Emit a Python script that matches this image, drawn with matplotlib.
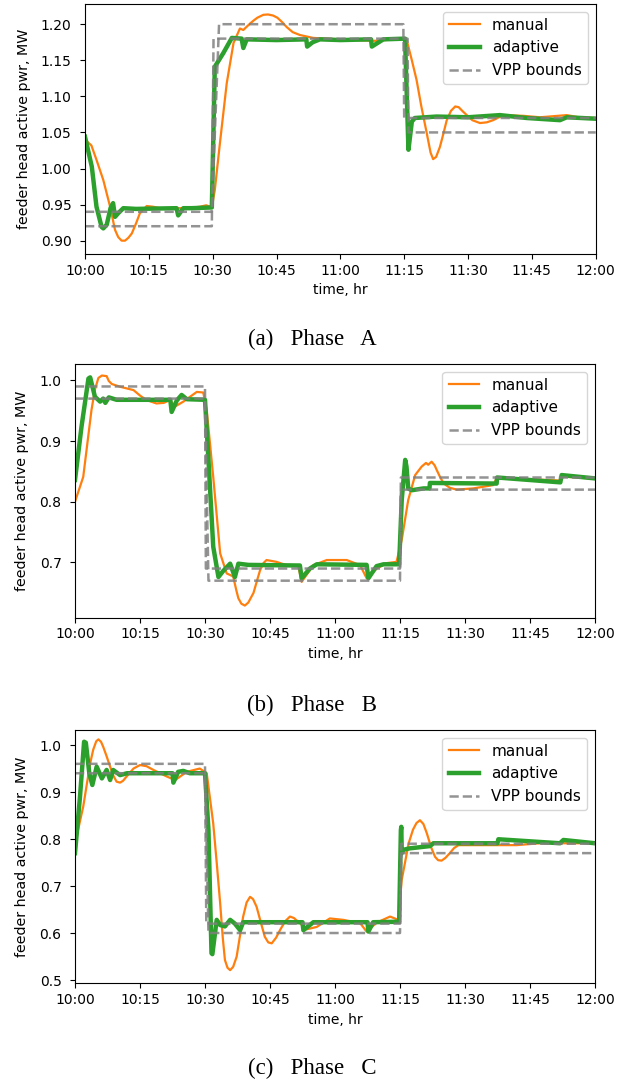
import numpy as np
import matplotlib
matplotlib.use("Agg")
import matplotlib.pyplot as plt

# time axis: minutes after 10:00
tick_min = [0, 15, 30, 45, 60, 75, 90, 105, 120]
tick_lbl = ['10:00', '10:15', '10:30', '10:45', '11:00', '11:15', '11:30', '11:45', '12:00']

# ---- Phase A ----
manual_a = [(0, 1.04), (1.5, 1.032), (2.7, 1.012), (4.3, 0.984), (5.9, 0.947), (7.05, 0.915),
            (7.8, 0.905), (8.6, 0.900), (9.4, 0.900), (10.2, 0.904), (11.0, 0.910), (12.0, 0.924),
            (12.9, 0.938), (14.5, 0.948), (16, 0.947), (17.6, 0.945), (20, 0.945), (24, 0.945),
            (27, 0.947), (28.5, 0.949), (29.8, 0.946), (30.5, 0.97), (31.7, 1.035), (33.3, 1.118),
            (34.9, 1.174), (36.4, 1.194), (37.2, 1.192), (38.8, 1.201), (39.6, 1.205), (40.5, 1.209),
            (41.9, 1.213), (43.0, 1.2135), (44.2, 1.212), (45.2, 1.209), (46.3, 1.203), (47.4, 1.196),
            (48.8, 1.189), (50.5, 1.185), (53.6, 1.181), (60, 1.179), (67.4, 1.177), (69, 1.177),
            (72, 1.179), (74.8, 1.180), (75.6, 1.178), (76.8, 1.150), (77.9, 1.123), (79.0, 1.087),
            (80.3, 1.049), (81.2, 1.022), (81.8, 1.013), (82.5, 1.016), (83.4, 1.030), (84.2, 1.048),
            (85.0, 1.067), (86.0, 1.080), (87.0, 1.086), (87.8, 1.085), (88.8, 1.079), (89.7, 1.074),
            (91.0, 1.067), (92.8, 1.063), (94.4, 1.064), (95.9, 1.067), (98.3, 1.074), (103, 1.073),
            (106.9, 1.071), (113.2, 1.074), (116, 1.071), (120, 1.070)]
adaptive_a = [(0, 1.044), (1.6, 1.0025), (2.7, 0.947), (3.9, 0.919), (4.3, 0.917), (5.1, 0.922),
              (6.0, 0.945), (6.6, 0.952), (7.05, 0.933), (7.8, 0.938), (9.0, 0.945), (12, 0.944),
              (21.5, 0.945), (21.9, 0.935), (23.1, 0.945), (25, 0.945), (29.8, 0.946), (30.5, 1.141),
              (32.5, 1.160), (34.5, 1.181), (36.8, 1.180), (37.2, 1.167), (38, 1.179), (45, 1.178),
              (52.0, 1.179), (52.2, 1.169), (53.5, 1.175), (55.2, 1.179), (60, 1.178), (67.2, 1.179),
              (67.4, 1.169), (70.1, 1.179), (75.2, 1.180), (76.0, 1.026), (76.8, 1.065), (77.5, 1.070),
              (82.6, 1.072), (90, 1.071), (97.5, 1.074), (103.8, 1.070), (111.6, 1.067), (113.2, 1.071),
              (120, 1.069)]
lo_a = [(0, 0.92), (29.8, 0.92), (30.2, 1.18), (75.8, 1.18), (76.0, 1.05), (120, 1.05)]
hi_a = [(0, 0.94), (29.8, 0.94), (31.5, 1.20), (74.8, 1.20), (75.0, 1.07), (120, 1.07)]

# ---- Phase B ----
manual_b = [(0, 0.80), (1.9, 0.841), (3.8, 0.951), (4.6, 0.985), (5.4, 1.004), (6.2, 1.008),
            (7.3, 1.007), (7.8, 0.999), (8.5, 0.994), (10.4, 0.9895), (13.5, 0.984), (15, 0.975),
            (16.5, 0.9675), (18.8, 0.962), (20.5, 0.963), (21.9, 0.9675), (23.1, 0.957), (25, 0.965),
            (28.1, 0.981), (29.6, 0.98), (30.4, 0.951), (31.9, 0.841), (33.5, 0.715), (35.0, 0.682),
            (36.5, 0.677), (37.2, 0.655), (37.7, 0.641), (38.4, 0.632), (39.2, 0.629), (40.0, 0.634),
            (41.2, 0.650), (42.0, 0.670), (42.7, 0.687), (43.5, 0.699), (44.2, 0.704), (46.5, 0.701),
            (48.8, 0.6955), (51.5, 0.695), (52.3, 0.668), (55, 0.6955), (58.1, 0.704), (62.7, 0.704),
            (65.8, 0.6955), (67.3, 0.674), (69.6, 0.69), (72, 0.699), (74.2, 0.701), (75.4, 0.737),
            (76.9, 0.803), (78.5, 0.844), (80.0, 0.858), (81.0, 0.864), (81.5, 0.861), (82.3, 0.866),
            (83.0, 0.860), (83.5, 0.852), (84.3, 0.840), (85.1, 0.830), (86.5, 0.823), (88.1, 0.820),
            (91.9, 0.822), (96.5, 0.8275), (97.3, 0.8385), (105, 0.837), (112.0, 0.835),
            (112.7, 0.8415), (120, 0.838)]
adaptive_b = [(0, 0.836), (1.5, 0.9236), (3.1, 1.003), (3.5, 1.005), (4.6, 0.973), (5.8, 0.965),
              (6.5, 0.97), (7.0, 0.963), (7.8, 0.972), (9.6, 0.968), (22.0, 0.968), (22.3, 0.948),
              (23.5, 0.967), (24.6, 0.976), (25.8, 0.969), (30.0, 0.968), (30.8, 0.869), (31.9, 0.726),
              (33.1, 0.676), (34.2, 0.686), (35.8, 0.698), (36.9, 0.676), (37.7, 0.698), (40, 0.696),
              (51.9, 0.695), (52.3, 0.674), (54.2, 0.690), (55.8, 0.697), (67.3, 0.696), (67.7, 0.674),
              (69.6, 0.694), (71.2, 0.697), (74.8, 0.697), (75.4, 0.803), (76.2, 0.869), (76.5, 0.858),
              (76.9, 0.822), (77.7, 0.819), (80.4, 0.822), (81.8, 0.822), (81.9, 0.831), (97.3, 0.830),
              (97.4, 0.840), (112.0, 0.832), (112.3, 0.844), (120, 0.8385)]
lo_b = [(0, 0.97), (30.0, 0.97), (30.8, 0.67), (75.0, 0.67), (75.2, 0.82), (120, 0.82)]
hi_b = [(0, 0.99), (30.0, 0.99), (30.2, 0.69), (75.0, 0.69), (75.2, 0.84), (120, 0.84)]

# ---- Phase C ----
manual_c = [(0, 0.79), (1.9, 0.869), (3.5, 0.961), (4.2, 0.99), (4.9, 1.008), (5.4, 1.012),
            (6.0, 1.007), (6.5, 0.9965), (7.3, 0.976), (8.1, 0.954), (8.9, 0.934), (9.6, 0.922),
            (10.4, 0.92), (11.1, 0.924), (11.9, 0.933), (13.5, 0.950), (15, 0.9574), (16.5, 0.955),
            (18.1, 0.947), (21.2, 0.933), (23.1, 0.9255), (25.8, 0.943), (28.8, 0.950), (30.4, 0.94),
            (31.9, 0.833), (32.7, 0.75), (33.5, 0.663), (34.1, 0.59), (34.6, 0.5425), (35.2, 0.526),
            (35.8, 0.521), (36.5, 0.528), (37.3, 0.5496), (38.0, 0.59), (38.8, 0.6347), (39.6, 0.665),
            (40.4, 0.677), (41.1, 0.672), (41.9, 0.656), (42.9, 0.622), (43.8, 0.592), (44.6, 0.580),
            (45.4, 0.578), (46.4, 0.590), (47.3, 0.606), (48.5, 0.625), (49.6, 0.635), (50.5, 0.632),
            (51.5, 0.624), (53.5, 0.608), (55.8, 0.613), (58.8, 0.631), (61.9, 0.628), (65.8, 0.621),
            (67.3, 0.603), (69.6, 0.622), (72.7, 0.635), (74.6, 0.628), (75.4, 0.713), (77.0, 0.791),
            (78.0, 0.820), (78.8, 0.834), (79.6, 0.840), (80.4, 0.832), (81.2, 0.812), (82.2, 0.782),
            (83.1, 0.762), (83.8, 0.755), (84.6, 0.754), (85.5, 0.760), (86.5, 0.770), (87.5, 0.781),
            (88.5, 0.787), (101.9, 0.787), (107.3, 0.791), (120, 0.791)]
adaptive_c = [(0, 0.770), (1.15, 0.89), (2.1, 1.007), (2.5, 1.005), (3.3, 0.94), (4.0, 0.915),
              (5.0, 0.954), (6.2, 0.929), (7.3, 0.947), (8.1, 0.9255), (8.8, 0.947), (10.4, 0.936),
              (12, 0.94), (22.5, 0.94), (22.7, 0.92), (23.8, 0.943), (25.0, 0.945), (26.5, 0.94),
              (30.0, 0.94), (30.8, 0.819), (31.5, 0.557), (31.7, 0.555), (32.7, 0.628), (33.5, 0.617),
              (34.6, 0.614), (35.8, 0.628), (36.9, 0.62), (38.1, 0.606), (38.8, 0.623), (52.5, 0.623),
              (52.7, 0.606), (55, 0.623), (67.5, 0.623), (67.7, 0.603), (68.8, 0.623), (74.8, 0.624),
              (75.2, 0.819), (75.3, 0.826), (75.4, 0.770), (75.8, 0.777), (77.1, 0.780), (81.9, 0.785),
              (82.7, 0.791), (97.5, 0.791), (97.7, 0.7995), (111.9, 0.791), (112.7, 0.798), (120, 0.791)]
lo_c = [(0, 0.94), (30.0, 0.94), (30.8, 0.60), (75.0, 0.60), (75.3, 0.77), (120, 0.77)]
hi_c = [(0, 0.96), (30.0, 0.96), (30.3, 0.62), (75.0, 0.62), (75.3, 0.79), (120, 0.79)]

yticks_a = [0.90, 0.95, 1.00, 1.05, 1.10, 1.15, 1.20]
yticks_b = [0.7, 0.8, 0.9, 1.0]
yticks_c = [0.5, 0.6, 0.7, 0.8, 0.9, 1.0]

W, H = 627, 1085
fig = plt.figure(figsize=(W / 100, H / 100), dpi=100)


def box(l, t, r, b):
    return [l / W, 1 - b / H, (r - l) / W, (b - t) / H]


def panel(rect, man, ada, lo, hi, yt, ylim, fmt):
    ax = fig.add_axes(rect)
    m = np.array(man)
    a = np.array(ada)
    l = np.array(lo)
    h = np.array(hi)
    ax.plot(m[:, 0], m[:, 1], color='#ff7f0e', lw=1.6, label='manual')
    ax.plot(a[:, 0], a[:, 1], color='#2ca02c', lw=3.2, label='adaptive')
    ax.plot(l[:, 0], l[:, 1], '--', color='gray', lw=1.8, alpha=0.85, label='VPP bounds')
    ax.plot(h[:, 0], h[:, 1], '--', color='gray', lw=1.8, alpha=0.85)
    ax.set_xlim(0, 120)
    ax.set_ylim(*ylim)
    ax.set_xticks(tick_min)
    ax.set_xticklabels(tick_lbl)
    ax.set_yticks(yt)
    ax.set_yticklabels([fmt % v for v in yt])
    ax.tick_params(labelsize=10)
    ax.tick_params(axis='y', pad=6.2)
    ax.set_xlabel('time, hr', fontsize=10)
    ax.set_ylabel('feeder head active pwr, MW', fontsize=10.3, labelpad=7.3)
    ax.legend(loc='upper right', fontsize=11)
    return ax


panel(box(85, 4, 595.7, 254), manual_a, adaptive_a, lo_a, hi_a, yticks_a, (0.8815, 1.228), '%.2f')
panel(box(75, 364, 595, 617.7), manual_b, adaptive_b, lo_b, hi_b, yticks_b, (0.609, 1.027), '%.1f')
panel(box(75, 730, 595, 983.3), manual_c, adaptive_c, lo_c, hi_c, yticks_c, (0.493, 1.032), '%.1f')

cap = dict(ha='center', va='center', fontsize=16.5, family=['Liberation Serif', 'DejaVu Serif'])
fig.text(312 / W, 1 - 339 / H, '(a)   Phase   A', **cap)
fig.text(312 / W, 1 - 705 / H, '(b)   Phase   B', **cap)
fig.text(312 / W, 1 - 1068 / H, '(c)   Phase   C', **cap)

fig.savefig('out.png', dpi=100)
